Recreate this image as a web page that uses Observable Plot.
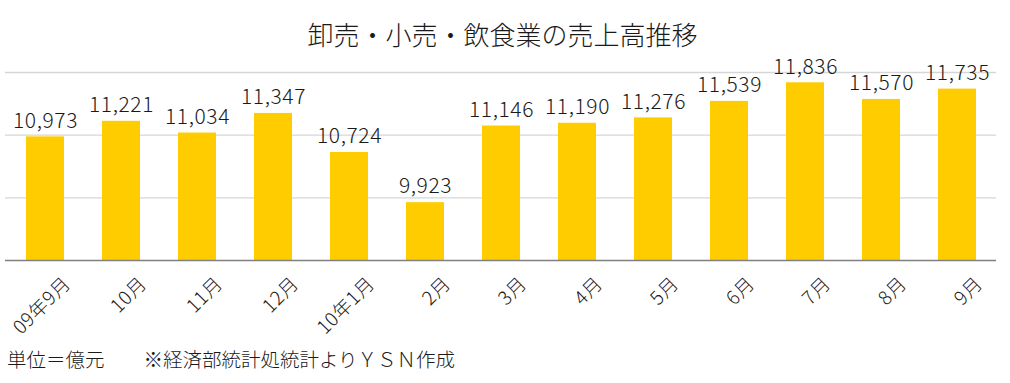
<!DOCTYPE html>
<html>
<head>
<meta charset="utf-8">
<script src="https://cdn.jsdelivr.net/npm/d3@7"></script>
<script src="https://cdn.jsdelivr.net/npm/@observablehq/plot@0.6"></script>
<style>
  html, body { margin: 0; padding: 0; background: #fff; }
  body { width: 1010px; height: 383px; position: relative; overflow: hidden;
         font-family: "Noto Sans CJK JP", "Noto Sans", sans-serif; color: #1a1a1a; font-weight: 300; }
  #title { position: absolute; left: 0; width: 1005px; top: 14px; text-align: center;
           font-size: 26px; line-height: 40px; }
  #chart { position: absolute; left: 0; top: 50px; }
  #footer { position: absolute; left: 7px; top: 344px; font-size: 19.5px; line-height: 30px; white-space: pre; }
  #chart svg text { letter-spacing: 0.6px; }
</style>
</head>
<body>
<div id="title"></div>
<div id="chart"></div>
<div id="footer"></div>
<script>
const months = ["09年9月","10月","11月","12月","10年1月","2月","3月","4月","5月","6月","7月","8月","9月"];
const sales = [10973, 11221, 11034, 11347, 10724, 9923, 11146, 11190, 11276, 11539, 11836, 11570, 11735];
const yDomain = [9000, 12000];
const gridTicks = [10000, 11000, 12000];
const titleText = "卸売・小売・飲食業の売上高推移";
const footerText = "単位＝億元　　※経済部統計処統計よりＹＳＮ作成";

const data = months.map((m, i) => ({month: m, value: sales[i]}));

document.getElementById("title").textContent = titleText;
document.getElementById("footer").textContent = footerText;

const chart = Plot.plot({
  width: 1010,
  height: 295,
  marginTop: 22,
  marginBottom: 85,
  marginLeft: 5,
  marginRight: 14,
  style: {fontFamily: "'Noto Sans CJK JP', 'Noto Sans', sans-serif", color: "#1a1a1a", background: "#fff", fontWeight: 300, overflow: "visible"},
  x: {domain: months, paddingInner: 0.5, paddingOuter: 0.25, axis: null},
  y: {domain: yDomain, axis: null},
  marks: [
    Plot.ruleY(gridTicks, {stroke: "#d6d6d6", strokeWidth: 1.3}),
    Plot.barY(data, {x: "month", y1: yDomain[0], y2: "value", fill: "#FFCC00"}),
    Plot.ruleY([yDomain[0]], {stroke: "#808080", strokeWidth: 1.5}),
    Plot.text(data, {x: "month", y: "value", text: d => d3.format(",")(d.value),
      dy: -16, lineAnchor: "middle", fontSize: 21, fontWeight: 300, fill: "#1a1a1a"}),
    Plot.text(data, {x: "month", text: "month", frameAnchor: "bottom", rotate: -45,
      textAnchor: "end", lineAnchor: "middle", dx: 22, dy: 20, fontSize: 19, fontWeight: 300, fill: "#1a1a1a"})
  ]
});
document.getElementById("chart").appendChild(chart);
</script>
</body>
</html>
